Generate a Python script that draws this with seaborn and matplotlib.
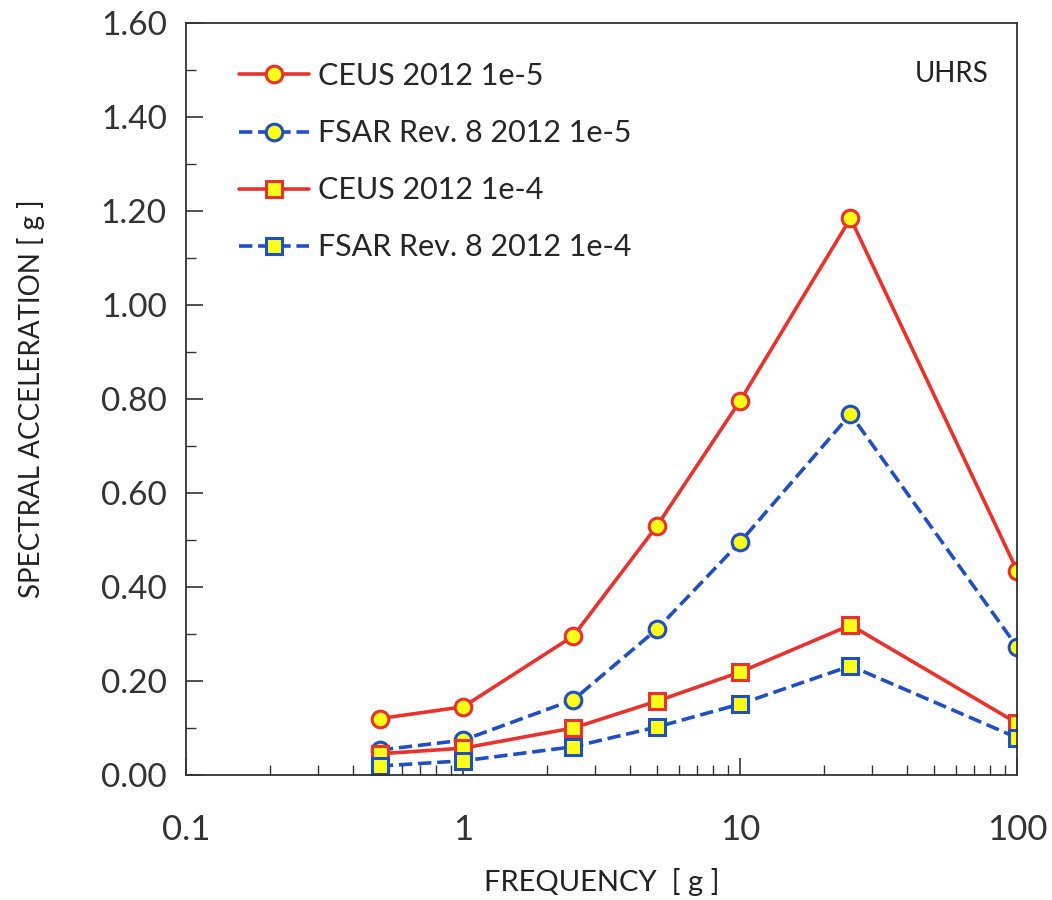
import numpy as np
import matplotlib.pyplot as plt
import seaborn as sns
from matplotlib.ticker import NullFormatter, MultipleLocator

# Data
freq = [0.5, 1, 2.5, 5, 10, 25, 100]
ceus_1e5 = [0.12, 0.145, 0.296, 0.53, 0.797, 1.185, 0.434]
fsar_1e5 = [0.053, 0.074, 0.16, 0.31, 0.496, 0.768, 0.272]
ceus_1e4 = [0.045, 0.057, 0.10, 0.157, 0.219, 0.319, 0.11]
fsar_1e4 = [0.019, 0.03, 0.06, 0.102, 0.151, 0.232, 0.079]

labels = ["CEUS 2012 1e-5", "FSAR Rev. 8 2012 1e-5", "CEUS 2012 1e-4", "FSAR Rev. 8 2012 1e-4"]
series = [ceus_1e5, fsar_1e5, ceus_1e4, fsar_1e4]
colors = ["#e8322b", "#1f4fc0", "#e8322b", "#1f4fc0"]
styles = ["-", "--", "-", "--"]
markers = ["o", "o", "s", "s"]

sns.set_style("ticks")
plt.rcParams['font.family'] = ['Lato', 'DejaVu Sans']

fig = plt.figure(figsize=(10.52, 9), dpi=100)
ax = fig.add_axes([0.177, 0.139, 0.79, 0.835])

for i in range(len(series)):
    sns.lineplot(x=freq, y=series[i], ax=ax, color=colors[i], linestyle=styles[i], linewidth=2.6,
                 marker=markers[i], markersize=12, markerfacecolor="#ffff1a", markeredgecolor=colors[i],
                 markeredgewidth=2.2, label=labels[i])

ax.set_xscale("log")
ax.set_xlim(0.1, 100)
ax.set_ylim(0, 1.6)
ax.yaxis.set_minor_locator(MultipleLocator(0.1))
ax.set_yticks(np.arange(0, 1.61, 0.2))
ax.set_yticklabels(["%.2f" % v for v in np.arange(0, 1.61, 0.2)])
ax.set_xticks([0.1, 1, 10, 100])
ax.set_xticklabels(["0.1", "1", "10", "100"])
ax.xaxis.set_minor_formatter(NullFormatter())

ax.tick_params(which="both", direction="in", top=False, right=False, colors="#333333")
ax.tick_params(which="major", length=12, width=1.2)
ax.tick_params(which="minor", length=7, width=1.0)
ax.tick_params(axis="y", labelsize=24, pad=14)
ax.tick_params(axis="x", labelsize=25, pad=28)
for s in ax.spines.values():
    s.set_color("#333333")
    s.set_linewidth(1.3)

ax.set_xlabel("FREQUENCY  [ g ]", fontsize=21, color="#222222", labelpad=16)
ax.set_ylabel("SPECTRAL ACCELERATION [ g ]", fontsize=20, color="#222222", labelpad=40)

ax.text(0.965, 0.933, "UHRS", transform=ax.transAxes, ha="right", va="center", fontsize=20, color="#222222")

leg = ax.legend(loc="upper left", frameon=False, fontsize=22, bbox_to_anchor=(0.03, 0.985),
                handlelength=2.3, labelspacing=0.95, handletextpad=0.3)

plt.savefig("out.png", dpi=100)
